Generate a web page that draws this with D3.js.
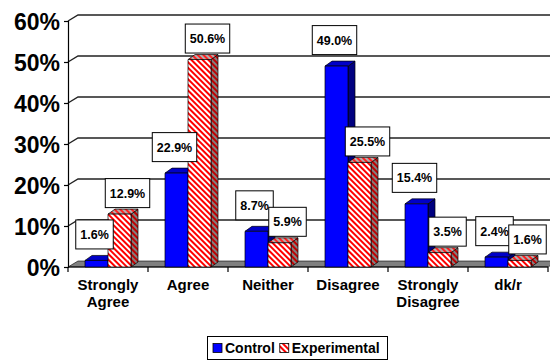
<!DOCTYPE html>
<html>
<head>
<meta charset="utf-8">
<script src="https://cdn.jsdelivr.net/npm/d3@7"></script>
<style>
  html, body { margin: 0; padding: 0; background: #fff; }
  svg { display: block; font-family: "Liberation Sans", Arial, sans-serif; font-weight: bold; }
</style>
</head>
<body>
<svg id="chart" width="550" height="362"></svg>
<script>
// Survey responses, percent of each group
const categories = [["Strongly", "Agree"], ["Agree"], ["Neither"], ["Disagree"], ["Strongly", "Disagree"], ["dk/r"]];
const seriesNames = ["Control", "Experimental"];
const control = [1.6, 22.9, 8.7, 49.0, 15.4, 2.4];
const experimental = [12.9, 50.6, 5.9, 25.5, 3.5, 1.6];
const yTicks = [0, 10, 20, 30, 40, 50, 60];

const svg = d3.select("#chart");
const W = 550;

// plot frame (front plane) and 3D depth offsets
const x0 = 68, x1 = 548, yBase = 267, yTop = 21;
const wallDx = 10, wallDy = -6;   // depth of back wall
const barDx = 7, barDy = -5;      // depth of each column

const y = d3.scaleLinear().domain([0, 60]).range([yBase, yTop]);
const catKeys = categories.map((c, i) => i);
const x = d3.scaleBand().domain(catKeys).range([x0, x1]).padding(0);
const inner = d3.scaleBand().domain(seriesNames).range([-23, 23]).padding(0);

// patterns for the hatched series
const defs = svg.append("defs");
function stripes(id, bg, fg) {
  const p = defs.append("pattern")
    .attr("id", id).attr("patternUnits", "userSpaceOnUse")
    .attr("width", 4).attr("height", 4)
    .attr("patternTransform", "rotate(-45)");
  p.append("rect").attr("width", 4).attr("height", 4).attr("fill", bg);
  p.append("rect").attr("width", 2).attr("height", 4).attr("fill", fg);
}
stripes("hatchFront", "#ffffff", "#ff0000");
stripes("hatchSide", "#808080", "#c00000");
stripes("hatchTop", "#b0b0b0", "#ff2020");

// floor
svg.append("path")
  .attr("d", `M${x0},${yBase} L${x0 + wallDx},${yBase + wallDy} L${x1 + wallDx},${yBase + wallDy} L${x1},${yBase} Z`)
  .attr("fill", "#808080").attr("stroke", "#000").attr("stroke-width", 0.6);

// gridlines on the back wall and left side wall
const grid = svg.append("g");
yTicks.filter(t => t > 0).forEach(t => {
  const yf = y(t), yb = y(t) + wallDy;
  grid.append("path")
    .attr("d", `M${x0},${yf} L${x0 + wallDx},${yb} L${W + 2},${yb}`)
    .attr("fill", "none").attr("stroke", "#222").attr("stroke-width", 1.4);
});

// y axis
const yAxis = d3.axisLeft(y).tickValues(yTicks).tickSize(4).tickFormat(d => d + "%");
const yg = svg.append("g").attr("transform", `translate(${x0},0)`).call(yAxis);
yg.select(".domain").attr("stroke", "#000").attr("stroke-width", 1.2);
yg.selectAll(".tick line").attr("stroke", "#000").attr("stroke-width", 1.2);
yg.selectAll(".tick text")
  .attr("x", -8).attr("dy", "0.36em")
  .attr("font-size", 23).attr("font-weight", "bold")
  .attr("font-family", "'Liberation Sans', Arial, sans-serif").attr("fill", "#000");

// x axis line and category ticks
svg.append("line").attr("x1", x0).attr("x2", x1).attr("y1", yBase).attr("y2", yBase)
  .attr("stroke", "#000").attr("stroke-width", 1.2);
catKeys.concat([catKeys.length]).forEach(i => {
  const xx = i < catKeys.length ? x(i) : x1;
  svg.append("line").attr("x1", xx).attr("x2", xx).attr("y1", yBase).attr("y2", yBase + 5)
    .attr("stroke", "#000").attr("stroke-width", 1.2);
});

// category labels
const labels = svg.append("g").attr("font-size", 15).attr("text-anchor", "middle").attr("fill", "#000");
categories.forEach((lines, i) => {
  const t = labels.append("text").attr("x", x(i) + x.bandwidth() / 2).attr("y", 290);
  lines.forEach((ln, j) => t.append("tspan").attr("x", x(i) + x.bandwidth() / 2).attr("dy", j === 0 ? 0 : 17).text(ln));
});

// bars
const styles = {
  Control: { front: "#0000ff", top: "#0000c8", side: "#000080" },
  Experimental: { front: "url(#hatchFront)", top: "url(#hatchTop)", side: "url(#hatchSide)" }
};
const bars = svg.append("g");
const labelData = [];
catKeys.forEach(i => {
  [control, experimental].forEach((vals, s) => {
    const name = seriesNames[s];
    const v = vals[i];
    const bx0 = x(i) + x.bandwidth() / 2 + inner(name);
    const bx1 = bx0 + inner.bandwidth();
    const yt = y(v);
    const st = styles[name];
    const g = bars.append("g").attr("stroke", "#000").attr("stroke-width", 0.7).attr("stroke-linejoin", "round");
    g.append("path").attr("fill", st.side)
      .attr("d", `M${bx1},${yt} L${bx1 + barDx},${yt + barDy} L${bx1 + barDx},${yBase + barDy} L${bx1},${yBase} Z`);
    g.append("path").attr("fill", st.top)
      .attr("d", `M${bx0},${yt} L${bx0 + barDx},${yt + barDy} L${bx1 + barDx},${yt + barDy} L${bx1},${yt} Z`);
    g.append("rect").attr("x", bx0).attr("y", yt).attr("width", bx1 - bx0).attr("height", yBase - yt)
      .attr("fill", st.front);
    const cx = (bx0 + bx1) / 2 + (s === 0 ? -2 : 8);
    const cy = yt - (s === 0 ? 26 : 21);
    labelData.push({ cx, cy, text: v.toFixed(1) + "%" });
  });
});

// value labels in boxes
const lg = svg.append("g");
labelData.forEach(d => {
  const g = lg.append("g");
  const t = g.append("text").attr("x", d.cx).attr("y", d.cy).attr("dy", "0.36em")
    .attr("text-anchor", "middle").attr("font-size", 12.5).attr("fill", "#000").text(d.text);
  const w = t.node().getComputedTextLength() + 9;
  g.insert("rect", "text").attr("x", d.cx - w / 2).attr("y", d.cy - 14.5)
    .attr("width", w).attr("height", 29).attr("fill", "#fff").attr("stroke", "#000").attr("stroke-width", 1);
});

// legend
const leg = svg.append("g");
leg.append("rect").attr("x", 207.5).attr("y", 336.5).attr("width", 180).attr("height", 23)
  .attr("fill", "#fff").attr("stroke", "#000").attr("stroke-width", 1);
let lx = 213;
seriesNames.forEach((name, s) => {
  leg.append("rect").attr("x", lx).attr("y", 343.5).attr("width", 9).attr("height", 9)
    .attr("fill", styles[name].front).attr("stroke", "#000").attr("stroke-width", 0.8);
  const t = leg.append("text").attr("x", lx + 12).attr("y", 353).attr("font-size", 14).attr("fill", "#000").text(name);
  lx += 12 + t.node().getComputedTextLength() + 5;
});
</script>
</body>
</html>
